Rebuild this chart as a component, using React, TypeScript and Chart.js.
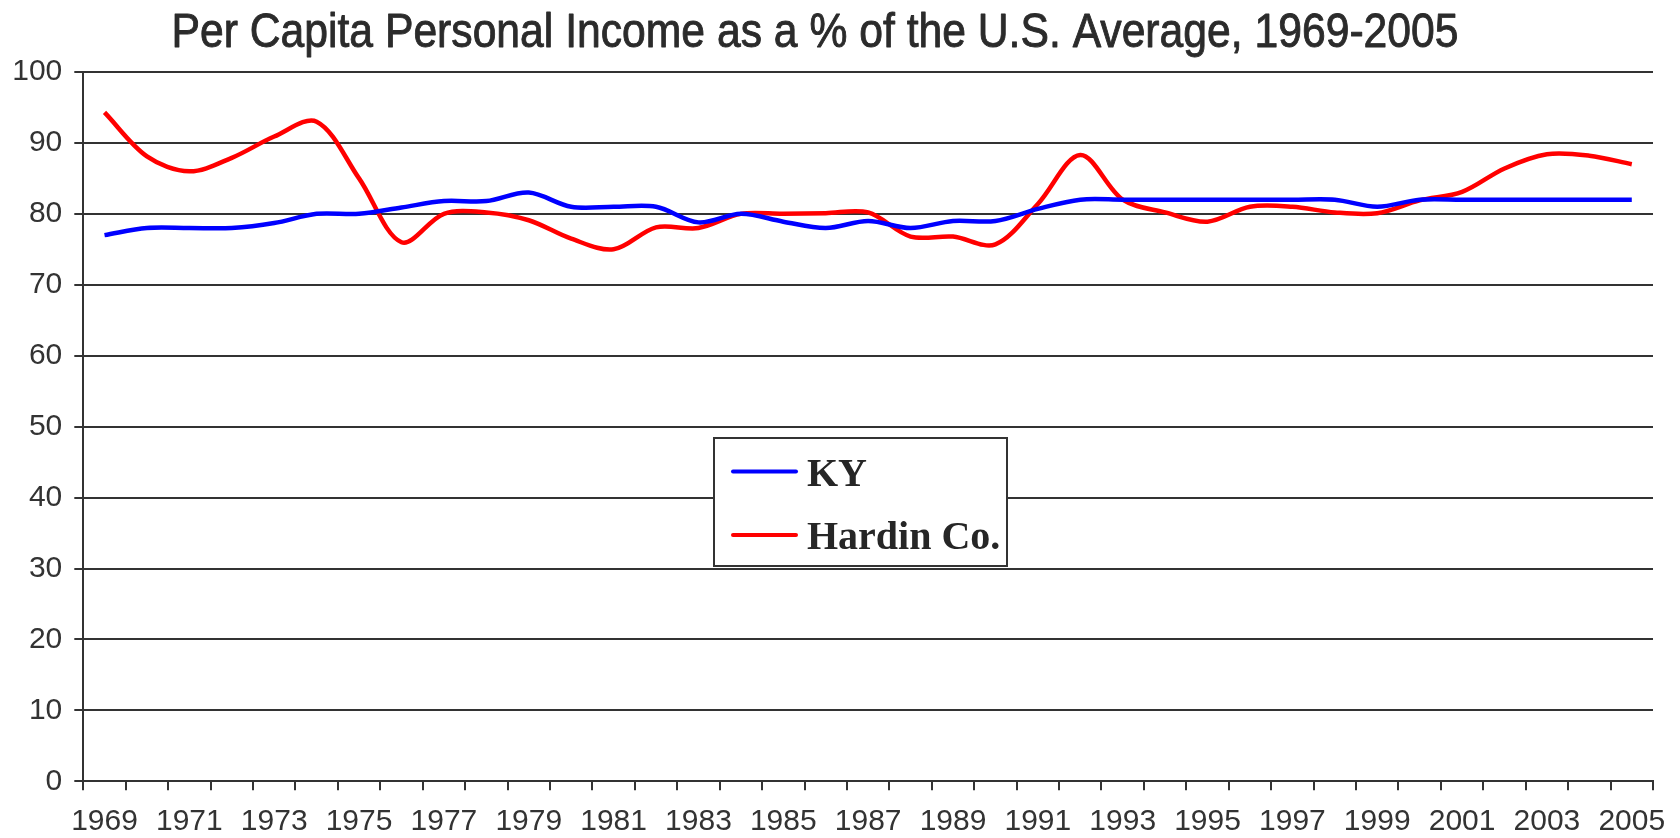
import React, { useEffect, useRef } from "react";
import { Chart, registerables } from "chart.js";

Chart.register(...registerables);

const TITLE = "Per Capita Personal Income as a % of the U.S. Average, 1969-2005";

const years: string[] = [
  "1969", "1970", "1971", "1972", "1973", "1974", "1975", "1976", "1977", "1978",
  "1979", "1980", "1981", "1982", "1983", "1984", "1985", "1986", "1987", "1988",
  "1989", "1990", "1991", "1992", "1993", "1994", "1995", "1996", "1997", "1998",
  "1999", "2000", "2001", "2002", "2003", "2004", "2005",
];

const kyValues: number[] = [
  77, 78, 78, 78, 78.7, 80, 80, 80.9, 81.8, 81.8,
  83, 81, 81, 81, 78.8, 80, 78.9, 78, 79, 78,
  79, 79, 80.7, 82, 82, 82, 82, 82, 82, 82,
  81, 82, 82, 82, 82, 82, 82,
];

const hardinValues: number[] = [
  94.3, 88.1, 86, 87.9, 90.9, 93, 85, 76, 80, 80.2,
  79.1, 76.5, 75, 78.1, 78, 80, 80, 80.1, 80.2, 76.8,
  76.8, 75.7, 81.4, 88.3, 82, 80.2, 78.9, 81, 81, 80.2,
  80.1, 81.9, 83.1, 86.4, 88.4, 88.2, 87,
];

const yTicks: number[] = [0, 10, 20, 30, 40, 50, 60, 70, 80, 90, 100];

const seriesNames: string[] = ["KY", "Hardin Co."];
const seriesColors: string[] = ["#0000ff", "#ff0000"];

const titlePlugin = {
  id: "customTitle",
  afterDraw(chart: any) {
    const ctx = chart.ctx;
    ctx.save();
    ctx.font = "48px 'Liberation Sans', Arial, sans-serif";
    const w = ctx.measureText(TITLE).width;
    const targetW = 1287;
    const sx = targetW / w;
    ctx.fillStyle = "#2b2b2b";
    ctx.strokeStyle = "#2b2b2b";
    ctx.lineWidth = 0.9;
    ctx.lineJoin = "round";
    ctx.textAlign = "center";
    ctx.textBaseline = "alphabetic";
    ctx.translate(815, 47);
    ctx.scale(sx, 1);
    ctx.fillText(TITLE, 0, 0);
    ctx.strokeText(TITLE, 0, 0);
    ctx.restore();
  },
};

const legendPlugin = {
  id: "boxLegend",
  afterDraw(chart: any) {
    const ctx = chart.ctx;
    const bx = 714, by = 438, bw = 293, bh = 128;
    ctx.save();
    ctx.fillStyle = "#ffffff";
    ctx.fillRect(bx, by, bw, bh);
    ctx.strokeStyle = "#333333";
    ctx.lineWidth = 2;
    ctx.strokeRect(bx, by, bw, bh);
    const rows = [471.5, 535];
    chart.data.datasets.forEach((ds: any, i: number) => {
      const y = rows[i];
      ctx.strokeStyle = ds.borderColor;
      ctx.lineWidth = 4;
      ctx.lineCap = "round";
      ctx.beginPath();
      ctx.moveTo(733, y);
      ctx.lineTo(796, y);
      ctx.stroke();
      ctx.fillStyle = "#262626";
      ctx.font = "bold 40px 'Liberation Serif', 'Times New Roman', serif";
      ctx.textAlign = "left";
      ctx.textBaseline = "alphabetic";
      ctx.fillText(ds.label, 807, y + 14);
    });
    ctx.restore();
  },
};

export default function App() {
  const canvasRef = useRef<HTMLCanvasElement | null>(null);

  useEffect(() => {
    if (!canvasRef.current) return;
    const chart = new Chart(canvasRef.current, {
      type: "line",
      data: {
        labels: years,
        datasets: [
          {
            label: seriesNames[0],
            data: kyValues,
            borderColor: seriesColors[0],
            backgroundColor: seriesColors[0],
            borderWidth: 4.5,
            pointRadius: 0,
            tension: 0.33,
            fill: false,
          },
          {
            label: seriesNames[1],
            data: hardinValues,
            borderColor: seriesColors[1],
            backgroundColor: seriesColors[1],
            borderWidth: 4.5,
            pointRadius: 0,
            tension: 0.33,
            fill: false,
          },
        ],
      },
      options: {
        responsive: false,
        animation: false,
        layout: { padding: { left: 0, right: 27, top: 72, bottom: 0 } },
        plugins: {
          legend: { display: false },
          title: { display: false },
          tooltip: { enabled: false },
        },
        scales: {
          x: {
            type: "category",
            offset: true,
            afterFit: (axis: any) => {
              axis.height = 56.7;
            },
            grid: {
              display: true,
              drawOnChartArea: false,
              drawTicks: true,
              offset: true,
              tickLength: 9,
              color: "#333333",
              lineWidth: 2,
            },
            border: { display: true, color: "#333333", width: 2 },
            ticks: {
              autoSkip: false,
              maxRotation: 0,
              minRotation: 0,
              padding: 13,
              color: "#333333",
              font: { family: "'Liberation Sans', Arial, sans-serif", size: 30 },
              callback: function (_v: any, index: number) {
                return index % 2 === 0 ? years[index] : "";
              },
            },
          },
          y: {
            min: yTicks[0],
            max: yTicks[yTicks.length - 1],
            afterFit: (axis: any) => {
              axis.width = 83.3;
            },
            afterBuildTicks: (axis: any) => {
              axis.ticks = yTicks.map((v) => ({ value: v }));
            },
            grid: {
              color: "#333333",
              lineWidth: 2,
              drawTicks: true,
              tickLength: 9,
            },
            border: { display: true, color: "#333333", width: 2 },
            ticks: {
              padding: 12,
              color: "#333333",
              font: { family: "'Liberation Sans', Arial, sans-serif", size: 30 },
            },
          },
        },
      },
      plugins: [titlePlugin, legendPlugin],
    });
    return () => chart.destroy();
  }, []);

  return (
    <div style={{ position: "fixed", left: 0, top: 0, width: 1680, height: 838, background: "#fff" }}>
      <canvas ref={canvasRef} width={1680} height={838} style={{ display: "block" }} />
    </div>
  );
}
